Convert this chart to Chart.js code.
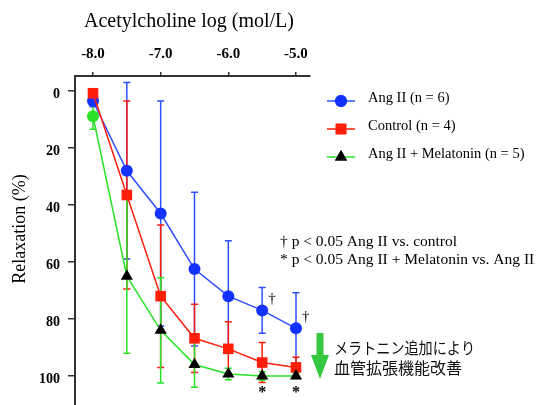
<!DOCTYPE html>
<html>
<head>
<meta charset="utf-8">
<script src="https://cdn.jsdelivr.net/npm/chart.js@4"></script>
<style>
    html, body { margin: 0; padding: 0; background: #fff; }
    #wrap { width: 537px; height: 405px; }
</style>
</head>
<body>
<div id="wrap"><canvas id="relaxChart" width="537" height="405"></canvas></div>
<script>
/** --------------------DATA-------------------- */

const doses = [-8.0, -7.5, -7.0, -6.5, -6.0, -5.5, -5.0];
const xTicks = [-8.0, -7.0, -6.0, -5.0];
const yTicks = [0, 20, 40, 60, 80, 100];

const angII = [3.5, 28, 43, 62.5, 72, 77, 83.3];
const angIISd = [2, 31, 39.5, 27, 19.4, 8, 12.5];
const control = [0.8, 36.5, 72, 86.8, 90.5, 95.3, 97];
const controlSd = [1, 33, 25, 12, 9.5, 7, 3.6];
const melatonin = [8.9, 65, 84, 96, 99.3, 100, 100];
const melatoninSd = [4.5, 27, 18.5, 8, 2, 1.5, 1];

const seriesLabels = ['Ang II (n = 6)', 'Control (n = 4)', 'Ang II + Melatonin (n = 5)'];
const daggerIdx = [5, 6];
const asteriskIdx = [5, 6];

const titleText = 'Acetylcholine log (mol/L)';
const yTitleText = 'Relaxation (%)';
const noteLines = ['\u2020 p < 0.05 Ang II vs. control', '* p < 0.05 Ang II + Melatonin vs. Ang II'];
const jpLines = ['メラトニン追加により', '血管拡張機能改善'];

/** --------------------COLOURS-------------------- */

const blue = 'rgb(20,50,255)';
const blueLine = 'rgb(45,80,255)';
const red = 'rgb(255,30,10)';
const green = 'rgb(40,225,40)';
const arrowGreen = 'rgb(55,200,65)';
const serif = '"Liberation Serif", "DejaVu Serif", serif';

function toPoints(ys) {
    return doses.map((x, i) => ({x: x, y: ys[i]}));
}

// error bars, drawn under the markers
const errorBars = {
    id: 'errorBars',
    beforeDatasetsDraw(chart) {
        const ctx = chart.ctx;
        const yScale = chart.scales.y;
        chart.data.datasets.forEach((ds, di) => {
            const meta = chart.getDatasetMeta(di);
            ctx.save();
            ctx.strokeStyle = ds.barColor;
            ctx.lineWidth = 1.5;
            meta.data.forEach((pt, i) => {
                const v = ds.data[i].y;
                const sd = ds.sd[i];
                const top = yScale.getPixelForValue(v - sd);
                const bot = yScale.getPixelForValue(v + sd);
                ctx.beginPath();
                ctx.moveTo(pt.x, top);
                ctx.lineTo(pt.x, bot);
                ctx.moveTo(pt.x - 3.5, top);
                ctx.lineTo(pt.x + 3.5, top);
                ctx.moveTo(pt.x - 3.5, bot);
                ctx.lineTo(pt.x + 3.5, bot);
                ctx.stroke();
            });
            ctx.restore();
        });
    }
};

// titles, legend, notes and the japanese annotation
const decorations = {
    id: 'decorations',
    afterDraw(chart) {
        const ctx = chart.ctx;
        ctx.save();
        ctx.fillStyle = '#000';
        ctx.textBaseline = 'middle';

        ctx.font = '20px ' + serif;
        ctx.textAlign = 'center';
        ctx.fillText(titleText, 189, 22);

        ctx.save();
        ctx.translate(20, 229);
        ctx.rotate(-Math.PI / 2);
        ctx.font = '18px ' + serif;
        ctx.fillText(yTitleText, 0, 0);
        ctx.restore();

        // legend
        const legendY = [101, 129, 157];
        ctx.textAlign = 'left';
        chart.data.datasets.forEach((ds, i) => {
            const y = legendY[i];
            ctx.strokeStyle = ds.borderColor;
            ctx.lineWidth = 1.5;
            ctx.beginPath();
            ctx.moveTo(327, y);
            ctx.lineTo(355, y);
            ctx.stroke();
            const style = ds.legendStyle;
            ctx.fillStyle = style.color;
            Chart.helpers.drawPoint(ctx, {pointStyle: style.shape, radius: style.radius, rotation: 0}, 341, y);
            ctx.fill();
            ctx.fillStyle = '#000';
            ctx.font = '14.5px ' + serif;
            ctx.fillText(seriesLabels[i], 368, y - 3);
        });

        // notes
        ctx.font = '15.5px ' + serif;
        ctx.fillText(noteLines[0], 280, 242);
        ctx.fillText(noteLines[1], 280, 260);

        // daggers next to Ang II, asterisks under melatonin
        const angMeta = chart.getDatasetMeta(0);
        daggerIdx.forEach(i => {
            const p = angMeta.data[i];
            ctx.font = '15px ' + serif;
            ctx.fillText('\u2020', p.x + 6, p.y - 11);
        });
        const melMeta = chart.getDatasetMeta(2);
        asteriskIdx.forEach(i => {
            const p = melMeta.data[i];
            ctx.font = 'bold 16px ' + serif;
            ctx.textAlign = 'center';
            ctx.fillText('*', p.x, p.y + 17);
        });

        // green arrow
        ctx.fillStyle = arrowGreen;
        ctx.beginPath();
        ctx.moveTo(316.5, 333);
        ctx.lineTo(323.5, 333);
        ctx.lineTo(323.5, 355);
        ctx.lineTo(329, 355);
        ctx.lineTo(320, 379);
        ctx.lineTo(311, 355);
        ctx.lineTo(316.5, 355);
        ctx.closePath();
        ctx.fill();

        ctx.fillStyle = '#111';
        ctx.textAlign = 'left';
        ctx.font = '16px "Noto Sans CJK JP", sans-serif';
        ctx.fillText(jpLines[0], 334, 348, 141);
        ctx.fillText(jpLines[1], 334, 368, 134);
        ctx.restore();
    }
};

const ctx = document.getElementById('relaxChart').getContext('2d');
const relaxChart = new Chart(ctx, {
    type: 'line',
    data: {
        datasets: [
            {
                label: seriesLabels[0],
                data: toPoints(angII),
                sd: angIISd,
                barColor: blueLine,
                borderColor: blueLine,
                borderWidth: 1.5,
                pointStyle: 'circle',
                pointRadius: 6,
                pointBackgroundColor: blue,
                pointBorderColor: blue,
                pointBorderWidth: 0,
                legendStyle: {shape: 'circle', radius: 6, color: blue},
                order: 3,
                tension: 0
            },
            {
                label: seriesLabels[1],
                data: toPoints(control),
                sd: controlSd,
                barColor: red,
                borderColor: red,
                borderWidth: 1.5,
                pointStyle: 'rect',
                pointRadius: 7.5,
                pointBackgroundColor: red,
                pointBorderColor: red,
                pointBorderWidth: 0,
                legendStyle: {shape: 'rect', radius: 7.5, color: red},
                order: 2,
                tension: 0
            },
            {
                label: seriesLabels[2],
                data: toPoints(melatonin),
                sd: melatoninSd,
                barColor: green,
                borderColor: green,
                borderWidth: 1.5,
                pointStyle: ['circle', 'triangle', 'triangle', 'triangle', 'triangle', 'triangle', 'triangle'],
                pointRadius: [6, 7, 7, 7, 7, 7, 7],
                pointBackgroundColor: [green, '#000', '#000', '#000', '#000', '#000', '#000'],
                pointBorderColor: [green, '#000', '#000', '#000', '#000', '#000', '#000'],
                pointBorderWidth: 0,
                legendStyle: {shape: 'triangle', radius: 7, color: '#000'},
                order: 1,
                tension: 0
            }
        ]
    },
    options: {
        responsive: false,
        animation: false,
        devicePixelRatio: 1,
        layout: {autoPadding: false, padding: {left: 0, top: 0, right: 227, bottom: 0}},
        plugins: {
            legend: {display: false},
            tooltip: {enabled: false}
        },
        scales: {
            x: {
                type: 'linear',
                position: 'top',
                min: -8.266,
                max: -4.793,
                afterBuildTicks: scale => {
                    scale.ticks = xTicks.map(v => ({value: v}));
                },
                afterFit: scale => {
                    scale.height = 76;
                    scale.paddingLeft = 0;
                    scale.paddingRight = 0;
                },
                ticks: {
                    color: '#000',
                    padding: 9,
                    font: {family: serif, size: 15, weight: 'bold'},
                    callback: v => v.toFixed(1)
                },
                grid: {drawOnChartArea: false, tickLength: 4, color: '#333', lineWidth: 1.5},
                border: {display: true, color: '#333', width: 2}
            },
            y: {
                type: 'linear',
                reverse: true,
                min: -5.26,
                max: 110.2,
                afterBuildTicks: scale => {
                    scale.ticks = yTicks.map(v => ({value: v}));
                },
                afterFit: scale => {
                    scale.width = 75;
                    scale.paddingTop = 0;
                    scale.paddingBottom = 0;
                },
                ticks: {
                    color: '#000',
                    padding: 8,
                    labelOffset: 3,
                    font: {family: serif, size: 14, weight: 'bold'}
                },
                grid: {drawOnChartArea: false, tickLength: 7, color: '#333', lineWidth: 1.5},
                border: {display: true, color: '#333', width: 2}
            }
        }
    },
    plugins: [errorBars, decorations]
});
</script>
</body>
</html>
